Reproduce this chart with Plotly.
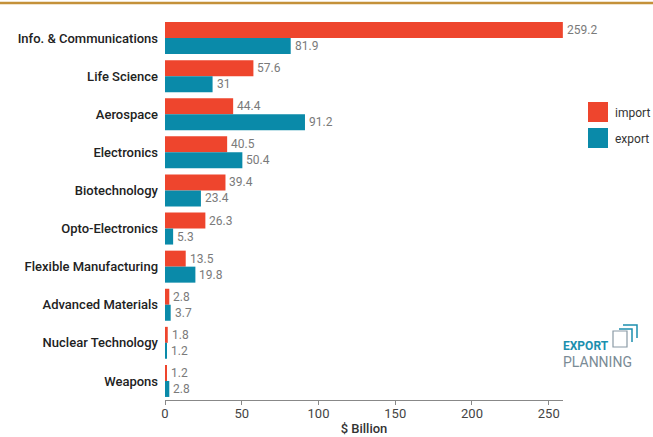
import plotly.graph_objects as go

categories = ["Info. & Communications", "Life Science", "Aerospace", "Electronics",
              "Biotechnology", "Opto-Electronics", "Flexible Manufacturing",
              "Advanced Materials", "Nuclear Technology", "Weapons"]
import_vals = [259.2, 57.6, 44.4, 40.5, 39.4, 26.3, 13.5, 2.8, 1.8, 1.2]
export_vals = [81.9, 31, 91.2, 50.4, 23.4, 5.3, 19.8, 3.7, 1.2, 2.8]
x_ticks = [0, 50, 100, 150, 200, 250]

W, H = 653, 437
ML, MR, MT, MB = 165, 90, 19, 37
PW, PH = W - ML - MR, H - MT - MB

def px(x):
    return (x - ML) / PW

def py(y):
    return 1 - (y - MT) / PH

IMP_COLOR = "#EE452D"
EXP_COLOR = "#0A8AA9"
BAR_HALF = 8

def fmt(v):
    return ("%g" % v)

fig = go.Figure()
fig.add_trace(go.Bar(y=categories, x=import_vals, orientation="h", name="import",
                     marker=dict(color=IMP_COLOR, line=dict(width=0))))
fig.add_trace(go.Bar(y=categories, x=export_vals, orientation="h", name="export",
                     marker=dict(color=EXP_COLOR, line=dict(width=0))))

shapes = []
annotations = []
# value labels, placed at data coordinates
for vals, shift in ((import_vals, BAR_HALF), (export_vals, -BAR_HALF)):
    for c, v in zip(categories, vals):
        annotations.append(dict(xref="x", yref="y", x=v, y=c, text=fmt(v),
                                showarrow=False, xanchor="left", yanchor="middle",
                                xshift=2, yshift=shift,
                                font=dict(size=12, color="#7A7A7A")))
# top gold rule
shapes.append(dict(type="line", xref="paper", yref="paper", x0=px(0), x1=px(W),
                   y0=py(3), y1=py(3), line=dict(color="#C4913A", width=2.5)))
# legend
for i, (name, col) in enumerate([("import", IMP_COLOR), ("export", EXP_COLOR)]):
    y0 = 102 + i * 26
    shapes.append(dict(type="rect", xref="paper", yref="paper",
                       x0=px(588), x1=px(608), y0=py(y0), y1=py(y0 + 20),
                       fillcolor=col, line=dict(width=0)))
    annotations.append(dict(xref="paper", yref="paper", x=px(613), y=py(y0 + 11),
                            text=name, showarrow=False, xanchor="left", yanchor="middle",
                            font=dict(size=12, color="#333333")))
# logo
annotations.append(dict(xref="paper", yref="paper", x=px(561), y=py(345.5),
                        text="<b>EXPORT</b>", showarrow=False, xanchor="left", yanchor="middle",
                        font=dict(size=12, color="#1C8FAE", family="Roboto")))
annotations.append(dict(xref="paper", yref="paper", x=px(561), y=py(361.5),
                        text="PLANNING", showarrow=False, xanchor="left", yanchor="middle",
                        font=dict(size=14, color="#7A8B96", family="Roboto")))
shapes.append(dict(type="path", xref="paper", yref="paper",
                   path="M %f %f L %f %f L %f %f L %f %f Z" % (
                       px(613), py(331), px(627), py(331), px(627), py(347), px(613), py(347)),
                   line=dict(color="#8A9AA5", width=1.2)))
shapes.append(dict(type="path", xref="paper", yref="paper",
                   path="M %f %f L %f %f L %f %f" % (
                       px(619), py(329), px(632), py(329), px(632), py(342)),
                   line=dict(color="#1C8FAE", width=1.5)))
shapes.append(dict(type="path", xref="paper", yref="paper",
                   path="M %f %f L %f %f L %f %f" % (
                       px(623), py(325), px(637), py(325), px(637), py(338)),
                   line=dict(color="#1C8FAE", width=1.5)))

fig.update_layout(
    width=W, height=H,
    margin=dict(l=ML, r=MR, t=MT, b=MB, pad=0, autoexpand=False),
    paper_bgcolor="white", plot_bgcolor="white",
    barmode="group", bargap=0.16, bargroupgap=0,
    showlegend=False,
    font=dict(family="Roboto", size=13, color="#333333"),
    shapes=shapes, annotations=annotations,
    xaxis=dict(range=[0, 259.3], tickvals=x_ticks, showgrid=False, zeroline=False,
               showline=True, linecolor="#888888", linewidth=1,
               ticks="outside", ticklen=4, tickcolor="#888888", automargin=False,
               ticklabelstandoff=-3,
               tickfont=dict(size=13, color="#444444"),
               title=dict(text="$ Billion", font=dict(size=13, color="#333333", weight=500),
                          standoff=0)),
    yaxis=dict(autorange="reversed", showgrid=False, zeroline=False, showline=False,
               ticks="", ticklabelstandoff=6, automargin=False,
               tickfont=dict(size=13, color="#222222", weight=500)),
)

fig.write_html("out.html")
